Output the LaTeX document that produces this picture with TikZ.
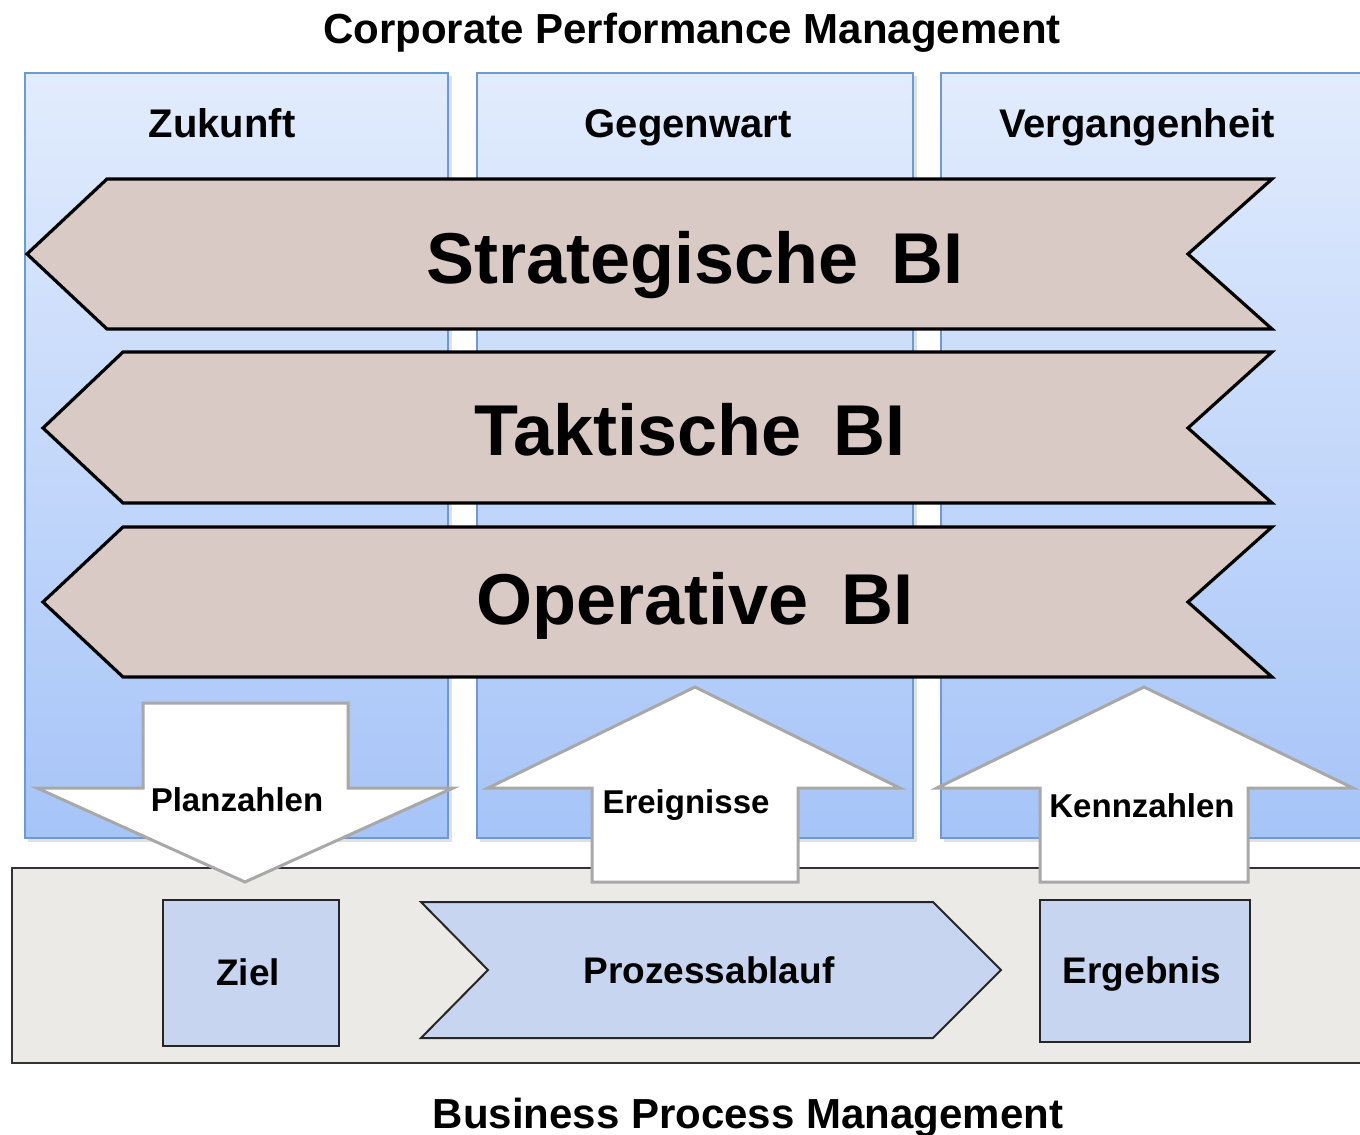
\documentclass[tikz,border=0pt]{standalone}
\usepackage{fontspec}
\setmainfont{Liberation Sans}
\definecolor{coltop}{HTML}{E2ECFD}
\definecolor{colbot}{HTML}{A6C4F8}
\definecolor{colborder}{HTML}{6E9AD2}
\definecolor{chevfill}{HTML}{D9CAC6}
\definecolor{arrowgrey}{HTML}{A8A8A8}
\definecolor{bpmfill}{HTML}{EBEAE6}
\definecolor{boxfill}{HTML}{C7D5F0}
\begin{document}
\begin{tikzpicture}[x=0.5pt,y=-0.5pt,
  colbox/.style={draw=colborder, line width=1pt, top color=coltop, bottom color=colbot},
  colshadow/.style={fill=black, opacity=0.12, draw=none},
  chev/.style={draw=black, line width=1.6pt, fill=chevfill, line join=miter},
  barrow/.style={draw=arrowgrey, line width=1.5pt, fill=white, line join=miter},
  pbox/.style={draw=black!85, line width=1pt, fill=boxfill},
  bpm/.style={draw=black!80, line width=1pt, fill=bpmfill},
  lbl/.style={font=\bfseries\fontsize{20}{24}\selectfont, inner sep=0pt, anchor=base},
  ttl/.style={font=\bfseries\fontsize{21}{25}\selectfont, inner sep=0pt, anchor=base},
  big/.style={font=\bfseries\fontsize{36}{40}\selectfont, inner sep=0pt, anchor=base},
  alabel/.style={font=\bfseries\fontsize{16.5}{20}\selectfont, inner sep=0pt, anchor=base},
  blabel/.style={font=\bfseries\fontsize{18.5}{22}\selectfont, inner sep=0pt, anchor=base}]
\useasboundingbox (0,0) rectangle (1360,1135);
\clip (0,0) rectangle (1360,1135);
\fill[white] (0,0) rectangle (1360,1135);

% columns
\fill[colshadow] (28,76) rectangle (452,842);
\fill[colshadow] (480,76) rectangle (917,842);
\fill[colshadow] (944,76) rectangle (1370,842);
\draw[colbox] (25,73) rectangle (448,838);
\draw[colbox] (477,73) rectangle (913,838);
\draw[colbox] (941,73) rectangle (1370,838);

\node[lbl] (zukunft) at (222,137) {Zukunft};
\node[lbl] (gegenwart) at (688,137) {Gegenwart};
\node[lbl] (vergangenheit) at (1137,137) {Vergangenheit};

% chevrons
\draw[chev] (107,179) -- (1272,179) -- (1188,254) -- (1272,329) -- (107,329) -- (27,254) -- cycle;
\draw[chev] (123,352) -- (1272,352) -- (1188,428) -- (1272,503) -- (123,503) -- (43,428) -- cycle;
\draw[chev] (123,527) -- (1272,527) -- (1188,602) -- (1272,677) -- (123,677) -- (43,602) -- cycle;

\node[big] (strat) at (695,283) {Strategische\hspace{0.45em}BI};
\node[big] (takt) at (690,455) {Taktische\hspace{0.45em}BI};
\node[big] (oper) at (695,624) {Operative\hspace{0.45em}BI};

% business process management band
\draw[bpm] (12,868) rectangle (1370,1063);

% block arrows
\draw[barrow] (143,703) -- (348,703) -- (348,788) -- (453,788) -- (245,882) -- (37,788) -- (143,788) -- cycle;
\draw[barrow] (695,687) -- (900,788) -- (798,788) -- (798,882) -- (592,882) -- (592,788) -- (488,788) -- cycle;
\draw[barrow] (1144,687) -- (1353,788) -- (1248,788) -- (1248,882) -- (1040,882) -- (1040,788) -- (937,788) -- cycle;

\node[alabel] (planzahlen) at (237,811) {Planzahlen};
\node[alabel] (ereignisse) at (686,813) {Ereignisse};
\node[alabel] (kennzahlen) at (1142,817) {Kennzahlen};

% process elements
\draw[pbox] (163,900) rectangle (339,1046);
\draw[pbox] (421,902) -- (933,902) -- (1001,970) -- (933,1038) -- (421,1038) -- (488,970) -- cycle;
\draw[pbox] (1040,900) rectangle (1250,1042);

\node[blabel] (ziel) at (248,985) {Ziel};
\node[blabel] (prozess) at (709,983) {Prozessablauf};
\node[blabel] (ergebnis) at (1142,983) {Ergebnis};

\node[ttl] (cpm) at (692,43) {Corporate Performance Management};
\node[ttl] (bpmtitle) at (748,1128) {Business Process Management};
\end{tikzpicture}
\end{document}
